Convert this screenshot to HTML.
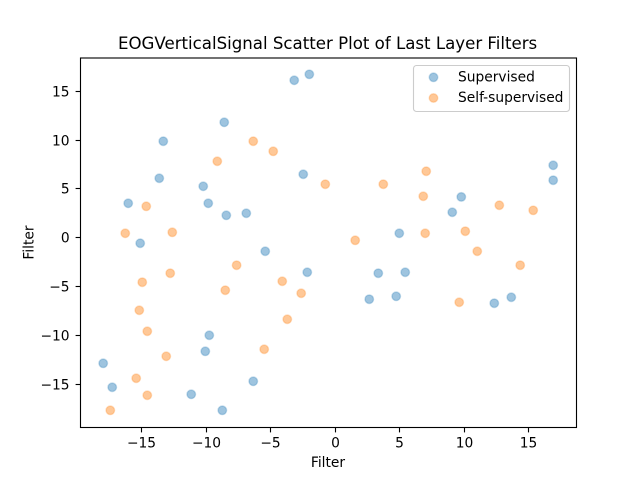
<!DOCTYPE html>
<html>
<head>
<meta charset="utf-8">
<style>
html,body{margin:0;padding:0;background:#fff}
svg{display:block;filter:blur(0.3px)}
text{font-family:"DejaVu Sans","Liberation Sans",sans-serif;fill:#000}
</style>
</head>
<body>
<svg id="chart" width="640" height="480" viewBox="0 0 640 480" xmlns="http://www.w3.org/2000/svg">
<rect width="640" height="480" fill="#fff"/>
<text x="327.6" y="49" font-size="16.63" text-anchor="middle">EOGVerticalSignal Scatter Plot of Last Layer Filters</text>
<g id="marks"></g>
<g id="axes"></g>
<rect x="80.5" y="58" width="496" height="369.5" fill="none" stroke="#000" stroke-width="1.11"/>
<text x="328" y="467" font-size="13.8" text-anchor="middle">Filter</text>
<text transform="translate(33.4 242.5) rotate(-90)" font-size="13.8" text-anchor="middle">Filter</text>
<g>
<rect x="413.5" y="65.5" width="156" height="46" rx="3" ry="3" fill="#fff" fill-opacity="0.8" stroke="#ccc" stroke-width="1.11"/>
<circle cx="433.5" cy="77.3" r="4.3" fill="#1f77b4" fill-opacity="0.43" stroke="#1f77b4" stroke-opacity="0.25" stroke-width="1.39"/>
<text x="458" y="81.5" font-size="13.8">Supervised</text>
<circle cx="433.5" cy="98" r="4.3" fill="#ff7f0e" fill-opacity="0.43" stroke="#ff7f0e" stroke-opacity="0.25" stroke-width="1.39"/>
<text x="458" y="102" font-size="13.8">Self-supervised</text>
</g>
</svg>
<script>
const supervisedX = [-3.19,-2.02,-8.62,-13.35,-13.66,-10.25,-2.49,-16.07,-9.86,-8.46,-6.91,-15.14,-5.44,-2.18,-9.78,-10.09,-18.01,-17.31,-11.18,-6.37,-8.77,16.90,16.90,9.77,9.07,4.96,3.33,5.42,2.63,4.72,12.33,13.65];
const supervisedY = [16.12,16.73,11.82,9.88,6.09,5.27,6.50,3.53,3.53,2.30,2.51,-0.56,-1.38,-3.53,-9.98,-11.62,-12.85,-15.30,-16.02,-14.69,-17.66,7.42,5.89,4.18,2.61,0.46,-3.63,-3.53,-6.29,-5.99,-6.70,-6.09];
const selfSupervisedX = [-6.37,-4.82,-9.16,-0.78,-14.67,-16.30,-12.65,-7.66,-12.81,-14.98,-4.12,-8.54,-2.65,-15.21,-3.73,-14.59,-5.52,-13.12,-15.45,-14.59,-17.46,7.05,3.72,6.82,12.72,15.35,6.97,10.08,1.54,11.01,14.34,9.61];
const selfSupervisedY = [9.88,8.85,7.83,5.48,3.22,0.46,0.56,-2.81,-3.63,-4.55,-4.45,-5.37,-5.68,-7.42,-8.34,-9.57,-11.41,-12.13,-14.38,-16.12,-17.66,6.81,5.48,4.25,3.33,2.81,0.46,0.67,-0.26,-1.38,-2.81,-6.60];
const xTicks = [-15,-10,-5,0,5,10,15];
const yTicks = [-15,-10,-5,0,5,10,15];
const xDomain = [-19.81,18.67];
const yDomain = [-19.39,18.44];

const NS = 'http://www.w3.org/2000/svg';
function xScale(v){ return 80 + (v - xDomain[0]) / (xDomain[1] - xDomain[0]) * 496; }
function yScale(v){ return 427.2 - (v - yDomain[0]) / (yDomain[1] - yDomain[0]) * 369.6; }
function fmt(v){ return v < 0 ? '\u2212' + Math.abs(v) : String(v); }
function snap(p){ return Math.round(p - 0.5) + 0.5; }

const marks = document.getElementById('marks');
const axes = document.getElementById('axes');

function drawSeries(xs, ys, color, name){
  xs.forEach(function(xv, i){
    const c = document.createElementNS(NS, 'circle');
    
    
    c.setAttribute('cx', xScale(xv).toFixed(2));
    c.setAttribute('cy', yScale(ys[i]).toFixed(2));
    c.setAttribute('r', '4.3');
    c.setAttribute('fill', color);
    c.setAttribute('fill-opacity', '0.43');
    c.setAttribute('stroke', color);
    c.setAttribute('stroke-opacity', '0.25');
    c.setAttribute('stroke-width', '1.39');
    marks.appendChild(c);
  });
}
drawSeries(supervisedX, supervisedY, '#1f77b4', 'supervised-point');
drawSeries(selfSupervisedX, selfSupervisedY, '#ff7f0e', 'self-supervised-point');

xTicks.forEach(function(t){
  const px = snap(xScale(t));
  const l = document.createElementNS(NS, 'line');
  
  
  l.setAttribute('x1', px); l.setAttribute('x2', px);
  l.setAttribute('y1', 427.5); l.setAttribute('y2', 432.4);
  l.setAttribute('stroke', '#000'); l.setAttribute('stroke-width', '1.11');
  axes.appendChild(l);
  const s = document.createElementNS(NS, 'text');
  
  
  s.setAttribute('x', px); s.setAttribute('y', 447.7);
  s.setAttribute('font-size', '13.8');
  s.setAttribute('text-anchor', 'middle');
  s.textContent = fmt(t);
  axes.appendChild(s);
});
yTicks.forEach(function(t){
  const py = snap(yScale(t));
  const l = document.createElementNS(NS, 'line');
  
  
  l.setAttribute('x1', 75.6); l.setAttribute('x2', 80.5);
  l.setAttribute('y1', py); l.setAttribute('y2', py);
  l.setAttribute('stroke', '#000'); l.setAttribute('stroke-width', '1.11');
  axes.appendChild(l);
  const s = document.createElementNS(NS, 'text');
  
  
  s.setAttribute('x', 69.6); s.setAttribute('y', py + 5);
  s.setAttribute('font-size', '13.8');
  s.setAttribute('text-anchor', 'end');
  s.textContent = fmt(t);
  axes.appendChild(s);
});
</script>
</body>
</html>
